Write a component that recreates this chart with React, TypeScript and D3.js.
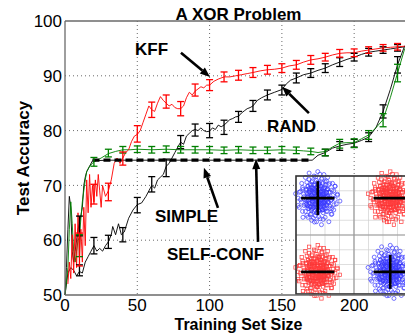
import * as d3 from 'd3';

// ---- data ----
const barX = [10, 20, 30, 40, 50, 60, 70, 80, 90, 100, 110, 120, 130, 140, 150, 160, 170, 180, 190, 200, 210, 220, 230];

const kffLine: [number, number][] = [
  [2, 52], [3, 56], [4, 53], [5, 61], [6, 54], [7, 63], [8, 55], [9, 65], [10, 57], [11, 62], [12, 56],
  [13, 66], [14, 59], [15, 71], [16, 65], [17, 72], [18, 66], [19, 70], [20, 67], [21, 71], [22, 68],
  [23, 72], [24, 69], [25, 66], [26, 70], [28, 68], [30, 69], [32, 71], [34, 74], [36, 75], [38, 74],
  [40, 75], [42, 76], [44, 76.5], [46, 78], [48, 79], [50, 79.3], [52, 80], [54, 81.5], [56, 83], [58, 84.5],
  [60, 83.8], [62, 83.5], [64, 85], [66, 86.2], [68, 85.5], [70, 85], [72, 84.5], [74, 84.8], [76, 84.2],
  [78, 84], [80, 84], [82, 84.5], [84, 86], [86, 87], [88, 86.5], [90, 87.2], [92, 87.6], [94, 88],
  [96, 87.8], [98, 88.3], [100, 88.3], [103, 89], [106, 89.4], [110, 89.8], [114, 89.8], [118, 90],
  [122, 90.2], [126, 90.4], [130, 90.6], [135, 90.9], [140, 91.1], [145, 91.2], [150, 91.4], [155, 91.8],
  [160, 92], [165, 92.5], [170, 92.9], [175, 93.1], [180, 93.4], [185, 93.8], [190, 94.1], [195, 94.2],
  [200, 94.2], [205, 94.5], [210, 94.7], [215, 94.9], [220, 95.1], [225, 95.2], [230, 95.3], [235, 95.4],
];
const kffMean = [58.3, 68.4, 68.8, 74.9, 79.4, 83.8, 85.3, 84, 87.4, 88.3, 89.8, 90.1, 90.6, 91.1, 91.4, 92, 92.9, 93.4, 94.1, 94.2, 94.7, 95.1, 95.3];
const kffErr = [3, 1.8, 1.6, 1.2, 1.5, 1.4, 1.2, 1.3, 1.1, 1, 0.9, 0.9, 0.9, 0.8, 0.8, 0.8, 0.8, 0.7, 0.7, 0.7, 0.6, 0.6, 0.6];

const randLine: [number, number][] = [
  [0, 50], [2, 54], [4, 55], [6, 54.5], [8, 53.5], [10, 54.3], [12, 54], [14, 56], [16, 57], [18, 58],
  [20, 59], [22, 58], [24, 58.5], [26, 58], [28, 59], [30, 59.7], [32, 61], [33, 62.5], [35, 61], [37, 63],
  [39, 61], [41, 61.5], [44, 64], [47, 65.5], [50, 66.5], [53, 66.8], [56, 68], [58, 69], [60, 70],
  [62, 69.5], [64, 71], [66, 71.5], [68, 72], [70, 73.5], [72, 74], [74, 75], [76, 76], [78, 77],
  [80, 77.9], [82, 77.5], [84, 79], [86, 79.5], [88, 80], [90, 80.2], [92, 80], [94, 80.5], [96, 80],
  [98, 79.8], [100, 79.9], [102, 80.5], [104, 80.2], [106, 81], [108, 80.7], [110, 81], [112, 81.5],
  [114, 82], [116, 82.2], [118, 82.5], [120, 82.6], [122, 83.2], [124, 83.6], [126, 84], [128, 84.2],
  [130, 84.5], [133, 85.5], [136, 86], [140, 86.5], [145, 87], [150, 87.5], [153, 88.5], [156, 89.2],
  [160, 89.6], [165, 90.2], [170, 90.5], [175, 91], [180, 91.4], [185, 92], [190, 92.5], [195, 93],
  [200, 93.4], [205, 93.9], [210, 94.3], [215, 94.5], [220, 94.7], [225, 94.9], [230, 95.1], [235, 95.3],
];
const randMean = [54.5, 59, 59.7, 61, 66.4, 70.2, 73.2, 77.9, 80.1, 80, 80.6, 82.5, 84.5, 86.5, 87.4, 89.6, 90.5, 91.4, 92.5, 93.4, 94.3, 94.7, 95.1];
const randErr = [1, 1.5, 1.2, 1.3, 1.4, 1.4, 1.6, 1.2, 1.1, 1.3, 1.3, 1, 1, 0.9, 0.9, 0.9, 0.8, 0.8, 0.8, 0.7, 0.7, 0.6, 0.6];

const simpleLine: [number, number][] = [
  [0, 50], [2, 55], [3, 62], [4, 67], [5, 63], [6, 58], [7, 56], [8, 58], [9, 60], [10, 60.5], [11, 64],
  [12, 67], [13, 69], [14, 71], [15, 72.5], [17, 73.5], [20, 74.3], [25, 75], [30, 75.8], [35, 76.2],
  [40, 76.5], [45, 76.5], [50, 76.6], [60, 76.5], [70, 76.6], [80, 76.5], [90, 76.5], [100, 76.5],
  [110, 76.4], [120, 76.5], [130, 76.4], [140, 76.4], [150, 76.5], [160, 76.4], [165, 76.3], [170, 76.2],
  [175, 76], [180, 76.2], [185, 77], [190, 77.7], [195, 77.8], [200, 77.8], [205, 78.5], [210, 79.2],
  [215, 80.5], [220, 82], [225, 86], [230, 90.5], [235, 95],
];
const simpleMean = [59, 74.3, 75.9, 76.5, 76.6, 76.5, 76.6, 76.5, 76.5, 76.5, 76.4, 76.5, 76.4, 76.4, 76.5, 76.4, 76.2, 76, 77.6, 77.7, 79.2, 81.9, 90.5];
const simpleErr = [2, 0.8, 0.7, 0.6, 0.6, 0.6, 0.6, 0.6, 0.6, 0.6, 0.6, 0.6, 0.6, 0.6, 0.6, 0.6, 0.6, 0.6, 0.8, 0.8, 0.8, 1.2, 1.6];

const selfLine: [number, number][] = [
  [0, 50], [1, 55], [2, 62], [3, 68], [4, 66], [5, 58], [6, 56], [7, 58], [8, 60], [9, 62], [10, 63],
  [12, 66], [13, 70], [14, 71.5], [15, 72.5], [17, 73.5], [19, 74.5], [30, 74.6], [100, 74.6], [171, 74.6],
  [175, 75.5], [180, 76], [185, 76.8], [190, 77.2], [195, 77.5], [200, 77.7], [205, 78.2], [210, 78.8],
  [215, 80.5], [220, 83.5], [225, 87.5], [230, 92], [235, 95.5],
];
const selfDashed: [number, number][] = [[19, 74.6], [171, 74.6]];
const selfBarX = [10, 180, 190, 200, 210, 220, 230];
const selfMean = [62.6, 76, 77.2, 77.7, 78.8, 83.5, 92];
const selfErr = [1.8, 0.6, 0.8, 0.7, 0.8, 1.2, 1.5];

const xTicks = [0, 50, 100, 150, 200];
const yTicks = [50, 60, 70, 80, 90, 100];

// annotation labels: [text, x, y, arrowFromX, arrowFromY, arrowToX, arrowToY]
const notes: [string, number, number, number, number, number, number][] = [
  ['KFF', 48.4, 93.8, 80.2, 94.2, 100.3, 89.8],
  ['RAND', 139.7, 79.7, 168.7, 83.2, 150.1, 88],
  ['SIMPLE', 62.2, 63.3, 105.8, 65.9, 96.1, 73.2],
  ['SELF-CONF', 70.5, 56.4, 133.5, 59.7, 132.1, 74.8],
];

// inset: XOR clusters (centre, colour) and sample offsets
const clusters: [number, number, string][] = [
  [-1, 1, 'blue'], [1, 1, 'red'], [-1, -1, 'red'], [1, -1, 'blue'],
];
const offsets: [number, number][] = [
  [0.1, -0.3], [-0.5, 0.2], [0.7, 0.4], [-0.2, 0.9], [0.4, -0.8], [-0.9, -0.4], [1.1, -0.1], [-1.2, 0.6],
  [0.3, 1.3], [-0.6, -1.1], [0.9, 0.9], [-0.1, 0.1], [0.5, 0.0], [-0.4, -0.2], [0.2, 0.6], [-0.8, 0.8],
  [1.3, 0.5], [-1.4, -0.1], [0.6, -1.3], [-0.3, 1.5], [0.0, -1.0], [1.0, -0.7], [-1.0, -0.9], [0.8, 1.4],
  [-0.7, 0.4], [0.3, -0.5], [-0.2, -0.6], [0.6, 0.7], [-1.1, 0.1], [1.5, -0.4], [-0.5, 1.1], [0.1, 0.9],
  [0.9, -0.3], [-0.9, -0.1], [0.4, 0.3], [-0.3, 0.5], [1.2, 1.0], [-1.3, 1.0], [0.2, -1.4], [-0.1, -1.6],
  [0.7, -0.9], [-0.6, -0.6], [1.6, 0.2], [-1.6, -0.5], [0.5, 1.6], [-0.4, 0.0], [0.0, 0.4], [0.8, 0.1],
  [-0.8, -0.7], [0.3, -0.1], [-1.0, 1.4], [1.1, -1.1], [-0.2, -1.2], [0.6, 1.1], [-1.2, -1.3], [1.4, 0.8],
  [-0.7, 1.7], [0.9, -1.6], [-1.5, 0.4], [1.0, 0.4], [0.1, -0.8], [-0.5, -1.5], [0.4, 1.0], [-0.9, 0.6],
  [1.3, -0.8], [-0.1, 1.2], [0.7, -0.5], [-0.6, 0.9], [0.2, 0.2], [-0.3, -0.9], [1.8, -0.2], [-1.8, 0.3],
  [0.0, 1.8], [0.3, -1.8], [-1.1, -0.5], [1.2, 0.0], [-0.4, 0.7], [0.5, -0.3], [-0.8, -1.3], [0.8, 0.6],
];

const W = 405;
const H = 333;
const x = d3.scaleLinear().domain([0, 240]).range([65, 412]);
const y = d3.scaleLinear().domain([50, 100]).range([295, 21]);

// inset scales
const ix = d3.scaleLinear().domain([-1.6, 1.6]).range([296, 412]);
const iy = d3.scaleLinear().domain([-1.6, 1.6]).range([294, 176]);
const insetGrid = d3.range(-1.6, 1.61, 0.4);

const line = d3.line<[number, number]>().x(d => x(d[0])).y(d => y(d[1]));

const font = 'Liberation Sans, Arial, Helvetica, sans-serif';

const ErrorBars = ({ xs, means, errs, color }: { xs: number[]; means: number[]; errs: number[]; color: string }) => (
  <g stroke={color} strokeWidth={1.3}>
    {xs.map((xv, i) => {
      const cx = x(xv);
      const y0 = y(means[i] - errs[i]);
      const y1 = y(means[i] + errs[i]);
      return (
        <g key={i}>
          <line x1={cx} x2={cx} y1={y0} y2={y1} />
          <line x1={cx - 3.5} x2={cx + 3.5} y1={y0} y2={y0} />
          <line x1={cx - 3.5} x2={cx + 3.5} y1={y1} y2={y1} />
        </g>
      );
    })}
  </g>
);

const Arrow = ({ x1, y1, x2, y2 }: { x1: number; y1: number; x2: number; y2: number }) => {
  const ang = Math.atan2(y2 - y1, x2 - x1);
  const len = 10;
  const wid = 4;
  const bx = x2 - len * Math.cos(ang);
  const by = y2 - len * Math.sin(ang);
  const px = -Math.sin(ang) * wid;
  const py = Math.cos(ang) * wid;
  return (
    <g>
      <line x1={x1} y1={y1} x2={bx} y2={by} stroke="#000" strokeWidth={2.6} />
      <path d={`M${x2},${y2}L${bx + px},${by + py}L${bx - px},${by - py}Z`} fill="#000" />
    </g>
  );
};

export default function App() {
  return (
    <svg width={W} height={H} style={{ position: 'absolute', left: 0, top: 0, background: '#fff' }} fontFamily={font}>
      <rect x={0} y={0} width={W} height={H} fill="#fff" />

      {/* grid */}
      <g stroke="#444" strokeWidth={0.8} strokeDasharray="1,3">
        {xTicks.slice(1).map(t => (
          <line key={'gx' + t} x1={x(t)} x2={x(t)} y1={y(100)} y2={y(50)} />
        ))}
        {yTicks.slice(1, -1).map(t => (
          <line key={'gy' + t} x1={x(0)} x2={x(240)} y1={y(t)} y2={y(t)} />
        ))}
      </g>

      {/* series */}
      <g fill="none" strokeWidth={0.9}>
        <path d={line(randLine) ?? ''} stroke="#000" />
        <path d={line(selfLine) ?? ''} stroke="#000" />
        <path d={line(simpleLine) ?? ''} stroke="#008000" />
        <path d={line(kffLine) ?? ''} stroke="#ff0000" />
        <path d={line(selfDashed) ?? ''} stroke="#000" strokeWidth={3.2} strokeDasharray="7,4" />
      </g>
      <ErrorBars xs={barX} means={randMean} errs={randErr} color="#000" />
      <ErrorBars xs={selfBarX} means={selfMean} errs={selfErr} color="#000" />
      <ErrorBars xs={barX} means={simpleMean} errs={simpleErr} color="#008000" />
      <ErrorBars xs={barX} means={kffMean} errs={kffErr} color="#ff0000" />

      {/* annotations */}
      {notes.map(([t, tx, ty, ax1, ay1, ax2, ay2]) => (
        <g key={t}>
          <text x={x(tx)} y={y(ty)} fontSize={17} fontWeight="bold">{t}</text>
          <Arrow x1={x(ax1)} y1={y(ay1)} x2={x(ax2)} y2={y(ay2)} />
        </g>
      ))}

      {/* inset */}
      <g>
        <rect x={ix(-1.6)} y={iy(1.6)} width={ix(1.6) - ix(-1.6)} height={iy(-1.6) - iy(1.6)} fill="#fff" />
        <g stroke="#d0d0d0" strokeWidth={0.7}>
          {insetGrid.map((g, i) => (
            <g key={i}>
              <line x1={ix(g)} x2={ix(g)} y1={iy(1.6)} y2={iy(-1.6)} />
              <line x1={ix(-1.6)} x2={ix(1.6)} y1={iy(g)} y2={iy(g)} />
            </g>
          ))}
        </g>
        <line x1={ix(0)} x2={ix(0)} y1={iy(1.6)} y2={iy(-1.6)} stroke="#999" strokeWidth={1.2} />
        <line x1={ix(-1.6)} x2={ix(1.6)} y1={iy(0)} y2={iy(0)} stroke="#999" strokeWidth={1.2} />
        {clusters.map(([cx, cy, col], ci) => (
          <g key={ci} fill="none" strokeWidth={0.7} stroke={col === 'blue' ? '#1a1aff' : '#ff1a1a'} opacity={0.85}>
            {offsets.flatMap(([ox, oy], k) => {
              const pts: [number, number][] = [
                [cx + ox * 0.34, cy + oy * 0.4],
                [cx - oy * 0.3, cy + ox * 0.36],
                [cx + oy * 0.18, cy - ox * 0.22],
              ];
              return pts.map(([px, py], j) =>
                col === 'blue' ? (
                  <circle key={k + '-' + j} cx={ix(px)} cy={iy(py)} r={2} />
                ) : (
                  <rect key={k + '-' + j} x={ix(px) - 1.7} y={iy(py) - 1.7} width={3.4} height={3.4} />
                )
              );
            })}
          </g>
        ))}
        {clusters.map(([cx, cy, col], ci) => (
          <g key={'m' + ci} stroke="#000" strokeWidth={2.6}>
            <line x1={ix(cx - 0.46)} x2={ix(cx + 0.46)} y1={iy(cy)} y2={iy(cy)} />
            {col === 'blue' && <line x1={ix(cx)} x2={ix(cx)} y1={iy(cy - 0.46)} y2={iy(cy + 0.46)} />}
          </g>
        ))}
        <rect x={ix(-1.6)} y={iy(1.6)} width={ix(1.6) - ix(-1.6)} height={iy(-1.6) - iy(1.6)} fill="none" stroke="#333" strokeWidth={1.6} />
      </g>

      {/* frame */}
      <g stroke="#6a6a6a" strokeWidth={1.3} fill="none">
        <line x1={x(0)} x2={x(0)} y1={y(100)} y2={y(50)} />
        <line x1={x(0)} x2={x(240)} y1={y(50)} y2={y(50)} />
        <line x1={x(0)} x2={x(240)} y1={y(100)} y2={y(100)} />
      </g>

      {/* tick labels */}
      <g fontSize={17} fill="#000">
        {yTicks.map(t => (
          <text key={'yt' + t} x={x(0) - 3} y={y(t)} dy="0.36em" textAnchor="end">{t}</text>
        ))}
        {xTicks.map(t => (
          <text key={'xt' + t} x={x(t)} y={311} textAnchor="middle">{t}</text>
        ))}
      </g>

      {/* titles */}
      <text x={(x(0) + x(240)) / 2} y={20} textAnchor="middle" fontSize={17} fontWeight="bold">A XOR Problem</text>
      <text x={(x(0) + x(240)) / 2} y={329.5} textAnchor="middle" fontSize={16} fontWeight="bold">Training Set Size</text>
      <text transform={`translate(29,${(y(50) + y(100)) / 2}) rotate(-90)`} textAnchor="middle" fontSize={17} fontWeight="bold">Test Accuracy</text>
    </svg>
  );
}
